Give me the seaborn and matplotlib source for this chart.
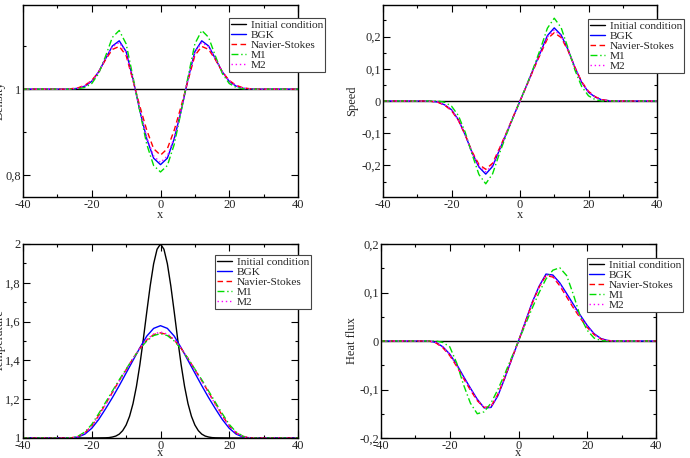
import seaborn as sns
import pandas as pd
import matplotlib
matplotlib.use("Agg")
import matplotlib.pyplot as plt
from matplotlib.ticker import MultipleLocator, FuncFormatter

# x positions of the sampled points (denser where the curves move)
x = [-40, -30, -28, -26, -24, -22, -20, -18, -16, -14, -12, -10, -8, -6, -4, -2, 0,
     2, 4, 6, 8, 10, 12, 14, 16, 18, 20, 22, 24, 26, 28, 30, 40]
x_ends = [-40, 40]
x_init_t = [-40, -20, -16, -15, -14, -13, -12, -11, -10, -9, -8, -7, -6, -5, -4, -3, -2, -1, 0,
            1, 2, 3, 4, 5, 6, 7, 8, 9, 10, 11, 12, 13, 14, 15, 16, 20, 40]

labels = ["Initial condition", "BGK", "Navier-Stokes", "M1", "M2"]

# density
dens_init = [1.0, 1.0]
dens_bgk = [1, 1, 1, 1.0005, 1.002, 1.007, 1.018, 1.04, 1.07, 1.1, 1.112, 1.087, 1.023, 0.95, 0.885, 0.84, 0.825,
            0.84, 0.885, 0.95, 1.023, 1.087, 1.112, 1.1, 1.07, 1.04, 1.018, 1.007, 1.002, 1.0005, 1, 1, 1]
dens_ns = [1, 1, 1, 1.001, 1.003, 1.009, 1.02, 1.04, 1.068, 1.092, 1.099, 1.078, 1.02, 0.96, 0.905, 0.862, 0.847,
           0.862, 0.905, 0.96, 1.02, 1.078, 1.099, 1.092, 1.068, 1.04, 1.02, 1.009, 1.003, 1.001, 1, 1, 1]
dens_m1 = [1, 1, 1, 1, 1.001, 1.004, 1.013, 1.036, 1.076, 1.12, 1.136, 1.105, 1.028, 0.948, 0.872, 0.823, 0.808,
           0.823, 0.872, 0.948, 1.028, 1.105, 1.136, 1.12, 1.076, 1.036, 1.013, 1.004, 1.001, 1, 1, 1, 1]
dens_m2 = [1, 1, 1, 1.0005, 1.002, 1.008, 1.019, 1.04, 1.07, 1.098, 1.108, 1.085, 1.022, 0.952, 0.888, 0.845, 0.83,
           0.845, 0.888, 0.952, 1.022, 1.085, 1.108, 1.098, 1.07, 1.04, 1.019, 1.008, 1.002, 1.0005, 1, 1, 1]

# speed
speed_init = [0.0, 0.0]
speed_bgk = [0, 0, 0, -0.001, -0.003, -0.012, -0.027, -0.058, -0.105, -0.16, -0.205, -0.227, -0.203, -0.152, -0.102, -0.05, 0,
             0.05, 0.102, 0.152, 0.203, 0.227, 0.205, 0.16, 0.105, 0.058, 0.027, 0.012, 0.003, 0.001, 0, 0, 0]
speed_ns = [0, 0, 0, -0.001, -0.004, -0.013, -0.03, -0.06, -0.105, -0.157, -0.197, -0.212, -0.193, -0.147, -0.099, -0.049, 0,
            0.049, 0.099, 0.147, 0.193, 0.212, 0.197, 0.157, 0.105, 0.06, 0.03, 0.013, 0.004, 0.001, 0, 0, 0]
speed_m1 = [0, 0, 0, 0, 0, -0.004, -0.016, -0.045, -0.097, -0.165, -0.228, -0.257, -0.226, -0.163, -0.105, -0.051, 0,
            0.051, 0.105, 0.163, 0.226, 0.257, 0.228, 0.165, 0.097, 0.045, 0.016, 0.004, 0, 0, 0, 0, 0]
speed_m2 = [0, 0, 0, -0.001, -0.003, -0.012, -0.028, -0.059, -0.105, -0.159, -0.202, -0.22, -0.199, -0.15, -0.1, -0.05, 0,
            0.05, 0.1, 0.15, 0.199, 0.22, 0.202, 0.159, 0.105, 0.059, 0.028, 0.012, 0.003, 0.001, 0, 0, 0]

# temperature
temp_init = [1, 1, 1.001, 1.002, 1.005, 1.01, 1.02, 1.038, 1.067, 1.112, 1.177, 1.266, 1.378, 1.509, 1.649, 1.784, 1.898, 1.973, 2.0,
             1.973, 1.898, 1.784, 1.649, 1.509, 1.378, 1.266, 1.177, 1.112, 1.067, 1.038, 1.02, 1.01, 1.005, 1.002, 1.001, 1, 1]
temp_bgk = [1, 1, 1, 1.0, 1.005, 1.02, 1.05, 1.095, 1.15, 1.208, 1.27, 1.335, 1.4, 1.465, 1.525, 1.565, 1.579,
            1.565, 1.525, 1.465, 1.4, 1.335, 1.27, 1.208, 1.15, 1.095, 1.05, 1.02, 1.005, 1.0, 1, 1, 1]
temp_ns = [1, 1, 1, 1.001, 1.008, 1.027, 1.062, 1.115, 1.175, 1.235, 1.296, 1.352, 1.41, 1.462, 1.505, 1.533, 1.542,
           1.533, 1.505, 1.462, 1.41, 1.352, 1.296, 1.235, 1.175, 1.115, 1.062, 1.027, 1.008, 1.001, 1, 1, 1]
temp_m1 = [1, 1, 1, 1.001, 1.009, 1.031, 1.07, 1.125, 1.183, 1.242, 1.3, 1.355, 1.41, 1.46, 1.5, 1.528, 1.538,
           1.528, 1.5, 1.46, 1.41, 1.355, 1.3, 1.242, 1.183, 1.125, 1.07, 1.031, 1.009, 1.001, 1, 1, 1]
temp_m2 = [1, 1, 1, 1.001, 1.007, 1.026, 1.06, 1.112, 1.172, 1.232, 1.293, 1.35, 1.41, 1.463, 1.508, 1.536, 1.546,
           1.536, 1.508, 1.463, 1.41, 1.35, 1.293, 1.232, 1.172, 1.112, 1.06, 1.026, 1.007, 1.001, 1, 1, 1]

# heat flux
flux_init = [0.0, 0.0]
flux_bgk = [0, 0, 0, 0, -0.003, -0.012, -0.027, -0.048, -0.073, -0.097, -0.12, -0.138, -0.137, -0.113, -0.077, -0.038, 0,
            0.04, 0.08, 0.113, 0.138, 0.136, 0.12, 0.098, 0.075, 0.053, 0.032, 0.015, 0.005, 0.001, 0, 0, 0]
flux_ns = [0, 0, 0, 0, -0.004, -0.014, -0.03, -0.052, -0.077, -0.101, -0.123, -0.137, -0.135, -0.11, -0.075, -0.037, 0,
           0.039, 0.078, 0.111, 0.135, 0.132, 0.114, 0.091, 0.068, 0.047, 0.028, 0.013, 0.004, 0.001, 0, 0, 0]
flux_m1 = [0, 0, 0, 0, 0, -0.003, -0.012, -0.045, -0.09, -0.128, -0.15, -0.146, -0.128, -0.1, -0.068, -0.034, 0,
           0.034, 0.068, 0.1, 0.128, 0.146, 0.151, 0.135, 0.095, 0.05, 0.022, 0.006, 0.001, 0, 0, 0, 0]
flux_m2 = [0, 0, 0, 0, -0.003, -0.013, -0.028, -0.05, -0.075, -0.099, -0.121, -0.137, -0.136, -0.111, -0.076, -0.038, 0,
           0.039, 0.079, 0.112, 0.136, 0.134, 0.117, 0.094, 0.071, 0.05, 0.03, 0.014, 0.004, 0.001, 0, 0, 0]

sns.set_style("ticks")
# Times-like text; STIXGeneral ships with matplotlib
plt.rcParams["font.family"] = ["Liberation Serif", "STIXGeneral", "DejaVu Serif"]
plt.rcParams["axes.unicode_minus"] = False

styles = [
    dict(color="black", linestyle="-"),
    dict(color="#0000ff", linestyle="-"),
    dict(color="#ff0000", linestyle=(0, (4, 2.5))),
    dict(color="#00dd00", linestyle=(0, (5, 2, 1, 2))),
    dict(color="#ff00ff", linestyle=(0, (1, 2))),
]

comma = FuncFormatter(lambda v, p: ("%g" % round(v, 6)).replace(".", ","))

fig = plt.figure(figsize=(6.9, 4.58), dpi=100)

panels = [
    # rect, ylabel, ylim, major, minor, series, legend anchor, ylabel x, xlabel y
    ([23 / 690, 1 - 197 / 458, 275 / 690, 192 / 458], "Density", (0.75, 1.195), 0.2, 0.1,
     [(x_ends, dens_init), (x, dens_bgk), (x, dens_ns), (x, dens_m1), (x, dens_m2)],
     (229 / 690, 1 - 18 / 458), -0.064, -0.062),
    ([383 / 690, 1 - 197 / 458, 274 / 690, 192 / 458], "Speed", (-0.298, 0.298), 0.1, 0.05,
     [(x_ends, speed_init), (x, speed_bgk), (x, speed_ns), (x, speed_m1), (x, speed_m2)],
     (588 / 690, 1 - 19 / 458), -0.091, -0.062),
    ([23 / 690, 1 - 438 / 458, 275 / 690, 194 / 458], "Temperature", (1.0, 2.0), 0.2, 0.1,
     [(x_init_t, temp_init), (x, temp_bgk), (x, temp_ns), (x, temp_m1), (x, temp_m2)],
     (215 / 690, 1 - 255 / 458), -0.064, -0.047),
    ([381 / 690, 1 - 438 / 458, 275 / 690, 194 / 458], "Heat flux", (-0.2, 0.2), 0.1, 0.05,
     [(x_ends, flux_init), (x, flux_bgk), (x, flux_ns), (x, flux_m1), (x, flux_m2)],
     (587 / 690, 1 - 258 / 458), -0.084, -0.047),
]

for rect, ylab, ylim, major, minor, series, anchor, ylx, xly in panels:
    ax = fig.add_axes(rect)
    for (xs, ys), lab, st in zip(series, labels, styles):
        df = pd.DataFrame({"x": xs, "y": ys})
        sns.lineplot(data=df, x="x", y="y", ax=ax, label=lab, linewidth=1.0, legend=False, **st)
    ax.set_xlim(-40, 40)
    ax.set_ylim(*ylim)
    ax.xaxis.set_major_locator(MultipleLocator(20))
    ax.xaxis.set_minor_locator(MultipleLocator(10))
    ax.yaxis.set_major_locator(MultipleLocator(major))
    ax.yaxis.set_minor_locator(MultipleLocator(minor))
    ax.xaxis.set_major_formatter(comma)
    ax.yaxis.set_major_formatter(comma)
    ax.tick_params(which="both", direction="in", top=True, right=True, labelsize=9, pad=1.5, width=0.8, color="black")
    ax.tick_params(which="major", length=5)
    ax.tick_params(which="minor", length=2.5)
    for sp in ax.spines.values():
        sp.set_linewidth(1.0)
        sp.set_color("black")
    ax.set_xlabel("x", fontsize=9, labelpad=0)
    ax.xaxis.set_label_coords(0.5, xly)
    ax.set_ylabel(ylab, fontsize=9)
    ax.yaxis.set_label_coords(ylx, 0.5)
    leg = ax.legend(loc="upper left", bbox_to_anchor=anchor, bbox_transform=fig.transFigure,
                    fontsize=8.2, frameon=True, fancybox=False, framealpha=1, edgecolor="#444444",
                    handlelength=1.3, handletextpad=0.4, labelspacing=0.0, borderpad=0.2, borderaxespad=0)
    leg.get_frame().set_linewidth(0.8)

fig.savefig("out.png", dpi=100)
